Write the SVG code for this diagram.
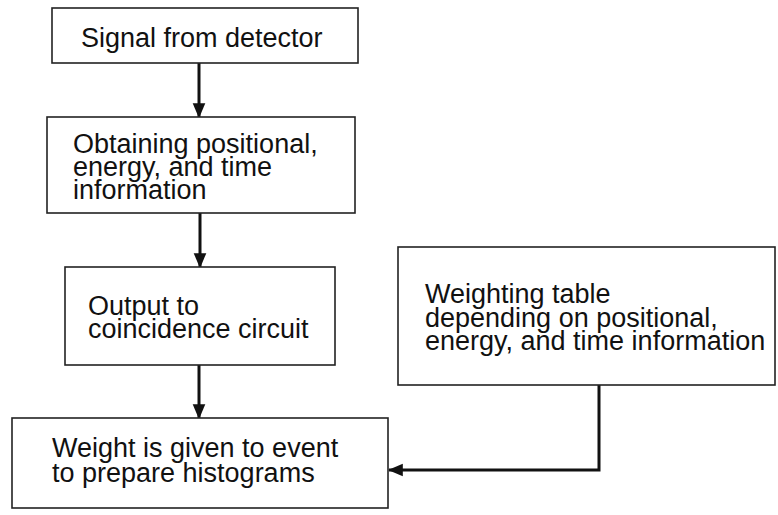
<svg xmlns="http://www.w3.org/2000/svg" width="778" height="515" viewBox="0 0 778 515">
  <style>
    .box { fill: #fff; stroke: #222; stroke-width: 1.6; }
    .lbl { font-family: "Liberation Sans", Arial, sans-serif; font-size: 27px; fill: #111; }
    .wire { fill: none; stroke: #111; stroke-width: 3; }
  </style>
  <defs>
    <marker id="head" markerWidth="5" markerHeight="5" refX="4.6" refY="2.5" orient="auto" markerUnits="strokeWidth">
      <path d="M0,0.4 L5,2.5 L0,4.6 Z" fill="#111"/>
    </marker>
  </defs>
  <rect width="778" height="515" fill="#fff"/>

  <g id="connectors">
    <line class="wire" x1="199" y1="63" x2="199" y2="117" marker-end="url(#head)"/>
    <line class="wire" x1="200" y1="213" x2="200" y2="267" marker-end="url(#head)"/>
    <line class="wire" x1="199" y1="365" x2="199" y2="418" marker-end="url(#head)"/>
    <polyline class="wire" points="599,385 599,470 389,470" marker-end="url(#head)"/>
  </g>

  <g id="signal">
    <rect class="box" x="52" y="8" width="306" height="55"/>
    <text class="lbl" x="81" y="47">Signal from detector</text>
  </g>

  <g id="obtaining">
    <rect class="box" x="47" y="117" width="308" height="96"/>
    <text class="lbl" x="73" y="153">Obtaining positional,</text>
    <text class="lbl" x="73" y="176">energy, and time</text>
    <text class="lbl" x="73" y="199">information</text>
  </g>

  <g id="output">
    <rect class="box" x="65" y="267" width="270" height="98"/>
    <text class="lbl" x="88" y="315">Output to</text>
    <text class="lbl" x="88" y="338">coincidence circuit</text>
  </g>

  <g id="weight">
    <rect class="box" x="12" y="418" width="376" height="90"/>
    <text class="lbl" x="52" y="457">Weight is given to event</text>
    <text class="lbl" x="52" y="482">to prepare histograms</text>
  </g>

  <g id="table">
    <rect class="box" x="398" y="247" width="377" height="138"/>
    <text class="lbl" x="425" y="303">Weighting table</text>
    <text class="lbl" x="425" y="327">depending on positional,</text>
    <text class="lbl" x="425" y="350">energy, and time information</text>
  </g>
</svg>
